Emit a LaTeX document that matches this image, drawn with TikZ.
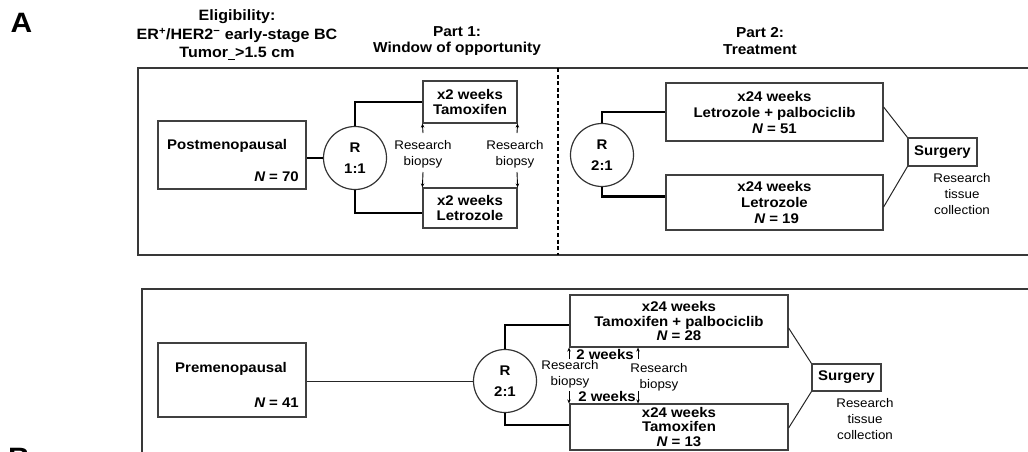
\documentclass[tikz,border=0pt]{standalone}
\usepackage{fontspec}
\setmainfont{Liberation Sans}[FakeStretch=1.07]
\usetikzlibrary{arrows.meta,calc}
\begin{document}
\begin{tikzpicture}[x=1pt,y=-1pt,
  frame/.style={draw=black!78, line width=1.4pt},
  divider/.style={draw=black, line width=2.2pt, dash pattern=on 4pt off 2.6pt},
  box/.style={draw=black!75, line width=1.2pt, inner sep=0, align=center, font=\fontsize{14}{15.5}\selectfont\bfseries},
  rc/.style={circle, draw=black!80, line width=1.2pt, minimum size=63, inner sep=0, align=center, font=\fontsize{14}{20.5}\selectfont\bfseries},
  btxt/.style={inner sep=0, align=center, font=\fontsize{14}{15.5}\selectfont\bfseries},
  ttl/.style={inner sep=0, align=center, font=\fontsize{14.4}{16.5}\selectfont\bfseries},
  elig/.style={inner sep=0, align=center, font=\fontsize{15}{18.5}\selectfont\bfseries},
  small/.style={inner sep=0, align=center, font=\fontsize{12.5}{16}\selectfont},
  letter/.style={inner sep=0, font=\fontsize{28}{28}\selectfont\bfseries},
  conn/.style={draw=black, line width=2.2pt},
  thin/.style={draw=black!85, line width=1pt},
  bx/.style={draw=black, line width=0.9pt, -{Stealth[length=4pt,width=3.5pt]}}
]
\useasboundingbox (0,0) rectangle (1028,452);

% panel letters and titles
\node[letter] (lA) at (21.5,23) {A};
\node[letter, anchor=north] (lB) at (19,448) {B};
\node[elig] (elig) at (237,35) {Eligibility:\\ER\textsuperscript{+}/HER2\textsuperscript{−} early-stage BC\\Tumor\underline{\hspace{7pt}}>1.5 cm};
\node[ttl] (p1) at (457,41) {Part 1:\\Window of opportunity};
\node[ttl] (p2) at (760,41) {Part 2:\\Treatment};

% frames
\draw[frame] (138,68) rectangle (1040,255);
\draw[divider] (558,68) -- (558,255);
\draw[frame] (142,289) rectangle (1040,470);

% ---------- top: postmenopausal ----------
\node[box, minimum width=148, minimum height=68] (pm) at (232,155) {};
\node[btxt, anchor=west] (pmt) at (167,146) {Postmenopausal};
\node[btxt, anchor=east] (pmn) at (299,177) {{\itshape N} = 70};
\node[rc] (r1) at (355,158) {R\\1:1};
\node[box, minimum width=94, minimum height=42] (tam) at (470,102) {x2 weeks\\Tamoxifen};
\node[box, minimum width=94, minimum height=40] (let) at (470,208) {x2 weeks\\Letrozole};
\node[small] (rb1) at (423,154) {Research\\biopsy};
\node[small] (rb2) at (515,154) {Research\\biopsy};

\draw[conn] (r1.west -| pm.east) -- (r1.west);
\draw[conn] (r1.north) |- (tam.west);
\draw[conn] (r1.south) |- ($(let.west)+(0,5)$);

\coordinate (a1) at (423,133);
\coordinate (a2) at (517,133);
\coordinate (a3) at (423,172);
\coordinate (a4) at (517,172);
\draw[bx] (a1) -- (tam.south west);
\draw[bx] (a2) -- (tam.south east);
\draw[bx] (a3) -- (let.north west);
\draw[bx] (a4) -- (let.north east);

\node[rc] (r2) at (602,155) {R\\2:1};
\node[box, minimum width=217, minimum height=58, font=\fontsize{14}{16}\selectfont\bfseries] (lp) at (774.5,112) {x24 weeks\\Letrozole + palbociclib\\{\itshape N} = 51};
\node[box, minimum width=217, minimum height=55, font=\fontsize{14}{16}\selectfont\bfseries] (lz) at (774.5,202.5) {x24 weeks\\Letrozole\\ \ {\itshape N} = 19};
\node[box, minimum width=69, minimum height=28] (sg1) at (942.5,152) {Surgery};
\node[small] (rt1) at (962,194) {Research\\tissue\\collection};

\draw[conn] (r2.north) |- (lp.west);
\draw[conn] (r2.south) |- ($(lz.west)+(0,-6)$);
\draw[thin] ($(lp.east)+(0,-5)$) -- (sg1.north west);
\draw[thin] ($(lz.east)+(0,4.5)$) -- (sg1.south west);

% ---------- bottom: premenopausal ----------
\node[box, minimum width=148, minimum height=74] (pre) at (232,380) {};
\node[btxt, anchor=west] (pret) at (175,369) {Premenopausal};
\node[btxt, anchor=east] (pren) at (299,403) {{\itshape N} = 41};
\node[rc] (r3) at (505,381) {R\\2:1};
\node[box, minimum width=218, minimum height=52, font=\fontsize{14}{14.5}\selectfont\bfseries] (tp) at (679,321) {x24 weeks\\Tamoxifen + palbociclib\\{\itshape N} = 28};
\node[box, minimum width=218, minimum height=46, font=\fontsize{14}{14.5}\selectfont\bfseries] (tx) at (679,427) {x24 weeks\\Tamoxifen\\{\itshape N} = 13};
\node[box, minimum width=69, minimum height=27] (sg2) at (846.5,377.5) {Surgery};
\node[small] (rt2) at (865,419) {Research\\tissue\\collection};

\draw[thin] (r3.west -| pre.east) -- (r3.west);
\draw[conn] (r3.north) |- ($(tp.west)+(0,4)$);
\draw[conn] (r3.south) |- ($(tx.west)+(0,-2)$);
\draw[thin] ($(tp.east)+(0,7)$) -- (sg2.north west);
\draw[thin] ($(tx.east)+(0,1)$) -- (sg2.south west);

\node[btxt] (w1) at (605,354) {2 weeks};
\node[btxt] (w2) at (607,396) {2 weeks};
\node[small] (rb3) at (570,374) {Research\\biopsy};
\node[small] (rb4) at (659,377) {Research\\biopsy};

\coordinate (b1) at (569,359);
\coordinate (b2) at (638,359);
\coordinate (b3) at (569,391);
\coordinate (b4) at (638,391);
\draw[bx] (b1) -- (b1 |- tp.south);
\draw[bx] (b2) -- (b2 |- tp.south);
\draw[bx] (b3) -- (b3 |- tx.north);
\draw[bx] (b4) -- (b4 |- tx.north);
\end{tikzpicture}
\end{document}
